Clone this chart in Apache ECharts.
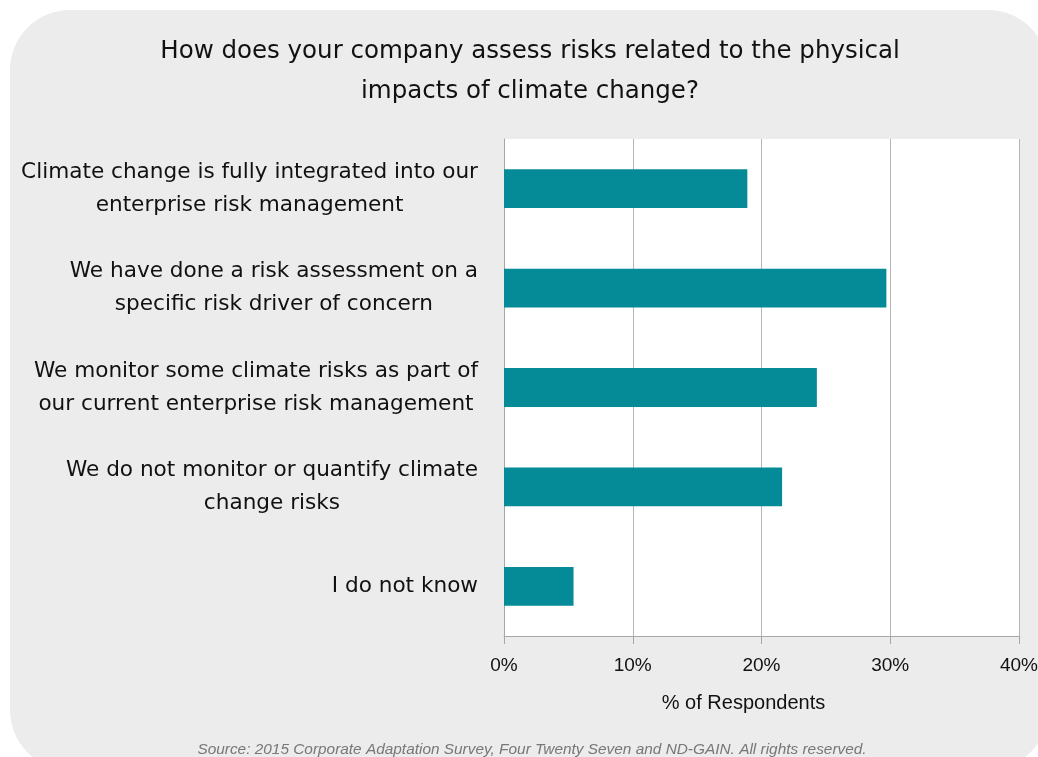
<!DOCTYPE html>
<html>
<head>
<meta charset="utf-8">
<script src="https://cdn.jsdelivr.net/npm/echarts@6/dist/echarts.min.js"></script>
<style>
  html, body { margin: 0; padding: 0; background: #fff; }
  #main { width: 1038px; height: 757px; }
</style>
</head>
<body>
<div id="main"></div>
<script>
var titleText = 'How does your company assess risks related to the physical\nimpacts of climate change?';
var categories = [
	'Climate change is fully integrated into our\nenterprise risk management',
	'We have done a risk assessment on a\nspecific risk driver of concern',
	'We monitor some climate risks as part of\nour current enterprise risk management',
	'We do not monitor or quantify climate\nchange risks',
	'I do not know'
];
var values = [18.9, 29.7, 24.3, 21.6, 5.4];
var axisName = '% of Respondents';
var sourceText = 'Source: 2015 Corporate Adaptation Survey, Four Twenty Seven and ND-GAIN. All rights reserved.';

var font = '"Liberation Sans", Arial, sans-serif';
var wideFont = '"DejaVu Sans", sans-serif';

var option = {
	animation: false,
	backgroundColor: '#ffffff',
	graphic: [
		{
			type: 'rect',
			z: -10,
			shape: { x: 10, y: 10, width: 1038, height: 760, r: 60 },
			style: { fill: '#ececec' }
		},
		{
			type: 'text',
			x: 530, y: 72,
			style: {
				text: titleText,
				align: 'center', verticalAlign: 'middle',
				font: '24.5px ' + wideFont,
				lineHeight: 40,
				fill: '#111'
			}
		},
		{
			type: 'text',
			x: 532, y: 750,
			style: {
				text: sourceText,
				align: 'center', verticalAlign: 'middle',
				font: 'italic 15.4px ' + font,
				fill: '#777'
			}
		}
	],
	grid: {
		left: 504, right: 19, top: 139, bottom: 121,
		outerBoundsMode: 'none',
		containLabel: false,
		show: true, backgroundColor: '#ffffff', borderWidth: 0
	},
	xAxis: {
		type: 'value',
		min: 0, max: 40, interval: 10,
		axisLine: { show: true, lineStyle: { color: '#a6a6a6', width: 1 } },
		axisTick: { show: true, length: 8, lineStyle: { color: '#a6a6a6' } },
		splitLine: { show: true, lineStyle: { color: '#b5b5b5', width: 1 } },
		axisLabel: {
			formatter: '{value}%', fontSize: 19, color: '#111',
			fontFamily: font, margin: 20
		},
		name: axisName,
		nameLocation: 'middle',
		nameGap: 57,
		nameTextStyle: {
			fontSize: 20, color: '#111', fontFamily: font,
			padding: [0, 36, 0, 0]
		}
	},
	yAxis: {
		type: 'category',
		inverse: true,
		data: categories,
		axisLine: { show: true, lineStyle: { color: '#a6a6a6', width: 1 } },
		axisTick: { show: false },
		axisLabel: {
			margin: 26,
			formatter: function (v) {
				return v.split('\n').map(function (l) { return '{c|' + l + '}'; }).join('\n');
			},
			rich: {
				c: { align: 'center', fontSize: 21.6, lineHeight: 33, color: '#111', fontFamily: wideFont }
			}
		}
	},
	series: [{
		type: 'bar',
		data: values,
		barWidth: '39%',
		itemStyle: { color: '#058b98' }
	}]
};

var myChart = echarts.init(document.getElementById('main'));
myChart.setOption(option);
</script>
</body>
</html>
